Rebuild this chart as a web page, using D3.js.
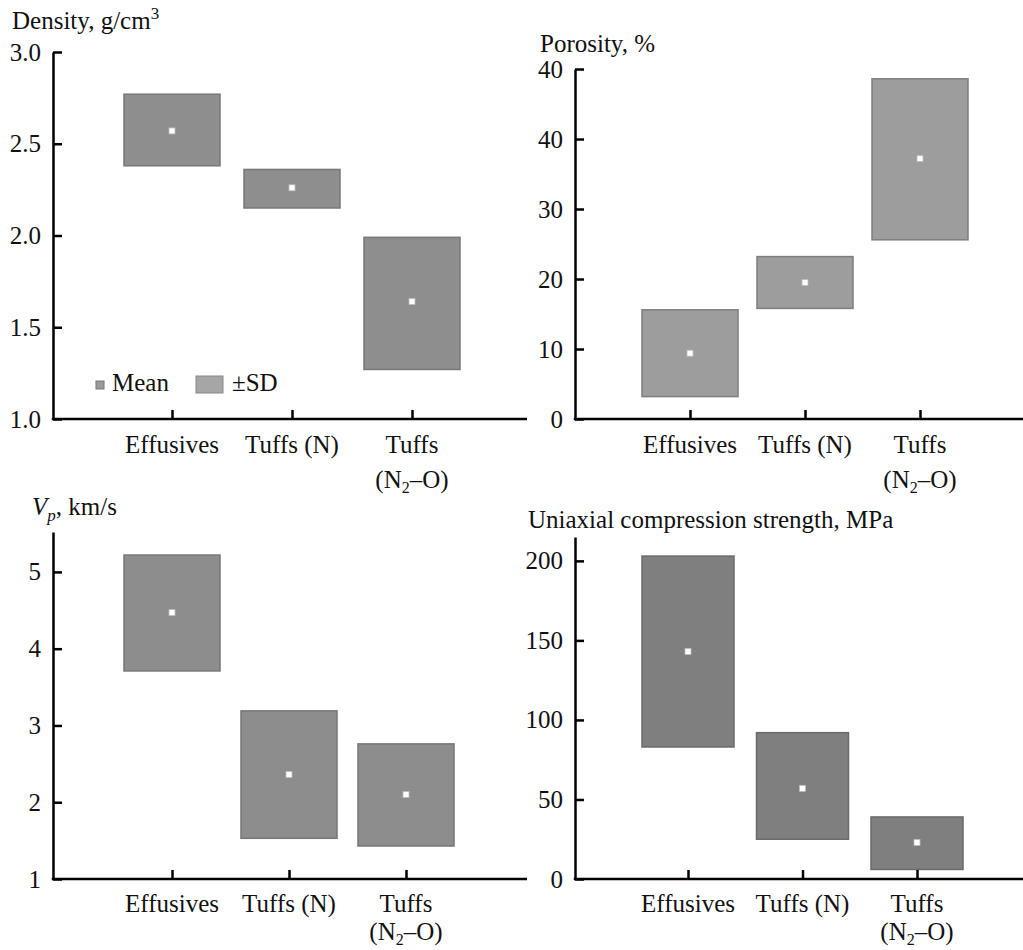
<!DOCTYPE html>
<html>
<head>
<meta charset="utf-8">
<script src="https://cdn.jsdelivr.net/npm/d3@7"></script>
<style>
  body { margin: 0; background: #fff; }
  svg text { font-family: "Times New Roman", Times, "Liberation Serif", Tinos, "Nimbus Roman", "Noto Serif", "DejaVu Serif", FreeSerif, serif; }
  .axis path, .axis line { stroke: #000; stroke-width: 2.5; }
  .axis text { font-size: 25px; fill: #111; }
</style>
</head>
<body>
<svg width="1023" height="950"></svg>
<script>
var FONT = "'Times New Roman', Times, 'Liberation Serif', Tinos, 'Nimbus Roman', 'Noto Serif', 'DejaVu Serif', FreeSerif, serif";

// rock groups
var categories = ["Effusives", "Tuffs (N)", "Tuffs (N2-O)"];

// density, g/cm3
var densityMean = [2.57, 2.26, 1.64];
var densityLow  = [2.38, 2.15, 1.27];
var densityHigh = [2.77, 2.36, 1.99];

// porosity, %
var porosityMean = [9.4, 19.5, 37.2];
var porosityLow  = [3.2, 15.8, 25.6];
var porosityHigh = [15.6, 23.2, 48.6];
// tick labels exactly as printed (top one reads 40 in the original)
var porosityTicks = [0, 10, 20, 30, 40, 50];
var porosityTickLabels = ["0", "10", "20", "30", "40", "40"];

// Vp, km/s
var vpMean = [4.47, 2.36, 2.1];
var vpLow  = [3.71, 1.53, 1.43];
var vpHigh = [5.22, 3.19, 2.76];

// uniaxial compression strength, MPa
var ucsMean = [143, 57, 23];
var ucsLow  = [83, 25, 6];
var ucsHigh = [203, 92, 39];

var svg = d3.select("svg");

function label(g) {
  return g.append("text").attr("font-family", FONT).attr("font-size", 25).attr("fill", "#111");
}

function drawPanel(p) {
  var g = svg.append("g");

  var y = d3.scaleLinear().domain(p.yDomain).range([p.y0, p.y1]);
  var x = d3.scalePoint().domain(categories).range(p.xRange);

  // boxes (+-SD)
  g.selectAll("rect.sd")
    .data(categories)
    .enter().append("rect")
      .attr("class", "sd")
      .attr("x", function(d) { return x(d) - p.boxW / 2; })
      .attr("width", p.boxW)
      .attr("y", function(d, i) { return y(p.high[i]); })
      .attr("height", function(d, i) { return y(p.low[i]) - y(p.high[i]); })
      .attr("fill", p.fill)
      .attr("stroke", p.stroke)
      .attr("stroke-width", 1.5);

  // mean markers
  g.selectAll("rect.mean")
    .data(categories)
    .enter().append("rect")
      .attr("class", "mean")
      .attr("x", function(d) { return x(d) - 3; })
      .attr("y", function(d, i) { return y(p.mean[i]) - 3; })
      .attr("width", 6)
      .attr("height", 6)
      .attr("fill", "#fff")
      .attr("stroke", "#bbb")
      .attr("stroke-width", 0.8);

  // y axis
  var yAxis = d3.axisLeft(y)
      .tickValues(p.ticks)
      .tickSizeInner(-9)
      .tickSizeOuter(0)
      .tickPadding(12)
      .tickFormat(p.fmt);
  g.append("g")
      .attr("class", "axis")
      .attr("transform", "translate(" + p.axisX + ",0)")
      .call(yAxis)
      .attr("font-family", FONT)
      .attr("font-size", 25);

  // x axis: line drawn over full width, ticks at category centres
  var xAxis = d3.axisBottom(x).tickSizeInner(-9).tickSizeOuter(0).tickFormat("");
  var xa = g.append("g")
      .attr("class", "axis")
      .attr("transform", "translate(0," + p.y0 + ")")
      .call(xAxis);
  xa.select(".domain").remove();
  xa.append("line")
      .attr("x1", p.axisX - 1.25).attr("x2", p.axisEnd)
      .attr("y1", 0).attr("y2", 0);

  // category labels
  categories.forEach(function(c) {
    var t = label(g)
        .attr("text-anchor", "middle")
        .attr("x", x(c))
        .attr("y", p.y0 + p.lab1);
    if (c === "Tuffs (N2-O)") {
      t.text("Tuffs");
      var t2 = label(g)
          .attr("text-anchor", "middle")
          .attr("x", x(c))
          .attr("y", p.y0 + p.lab2);
      t2.append("tspan").text("(N");
      t2.append("tspan").attr("font-size", 16).attr("dy", 5).text("2");
      t2.append("tspan").attr("dy", -5).text("\u2013O)");
    } else {
      t.text(c);
    }
  });

  // title
  var title = label(g)
      .attr("x", p.titleX)
      .attr("y", p.titleY);
  p.title(title);

  return { x: x, y: y, g: g };
}

// Density
var p1 = drawPanel({
  yDomain: [1, 3], y0: 419, y1: 52,
  xRange: [172, 412], axisX: 53, axisEnd: 527, boxW: 96,
  lab1: 34, lab2: 69,
  ticks: [1, 1.5, 2, 2.5, 3], fmt: d3.format(".1f"),
  mean: densityMean, low: densityLow, high: densityHigh,
  fill: "#8e8e8e", stroke: "#777",
  titleX: 12, titleY: 29,
  title: function(t) {
    t.append("tspan").text("Density, g/cm");
    t.append("tspan").attr("font-size", 17).attr("dy", -10).text("3");
  }
});

// legend inside density panel
var lg = p1.g.append("g");
lg.append("rect").attr("x", 96).attr("y", 381).attr("width", 8).attr("height", 8)
  .attr("fill", "#9a9a9a").attr("stroke", "#777").attr("stroke-width", 1);
label(lg).attr("x", 112).attr("y", 391).text("Mean");
lg.append("rect").attr("x", 196).attr("y", 376).attr("width", 27).attr("height", 17)
  .attr("fill", "#a6a6a6").attr("stroke", "#888").attr("stroke-width", 1);
label(lg).attr("x", 232).attr("y", 391).text("\u00b1SD");

// Porosity
drawPanel({
  yDomain: [0, 50], y0: 419, y1: 69,
  xRange: [690, 920], axisX: 575, axisEnd: 1023, boxW: 96,
  lab1: 34, lab2: 69,
  ticks: porosityTicks,
  fmt: function(d) { return porosityTickLabels[porosityTicks.indexOf(d)]; },
  mean: porosityMean, low: porosityLow, high: porosityHigh,
  fill: "#9d9d9d", stroke: "#7e7e7e",
  titleX: 540, titleY: 52,
  title: function(t) { t.text("Porosity, %"); }
});

// Vp
drawPanel({
  yDomain: [1, 5.52], y0: 879, y1: 532,
  xRange: [172, 406], axisX: 53, axisEnd: 527, boxW: 96,
  lab1: 33, lab2: 61,
  ticks: [1, 2, 3, 4, 5], fmt: d3.format("d"),
  mean: vpMean, low: vpLow, high: vpHigh,
  fill: "#8d8d8d", stroke: "#767676",
  titleX: 32, titleY: 515,
  title: function(t) {
    t.append("tspan").attr("font-style", "italic").text("V");
    t.append("tspan").attr("font-style", "italic").attr("font-size", 17).attr("dy", 6).text("p");
    t.append("tspan").attr("dy", -6).text(", km/s");
  }
});

// Uniaxial compression strength
drawPanel({
  yDomain: [0, 215], y0: 879, y1: 537,
  xRange: [688, 917], axisX: 575, axisEnd: 1023, boxW: 92,
  lab1: 33, lab2: 61,
  ticks: [0, 50, 100, 150, 200], fmt: d3.format("d"),
  mean: ucsMean, low: ucsLow, high: ucsHigh,
  fill: "#7f7f7f", stroke: "#6a6a6a",
  titleX: 528, titleY: 528,
  title: function(t) { t.text("Uniaxial compression strength, MPa"); }
});
</script>
</body>
</html>
